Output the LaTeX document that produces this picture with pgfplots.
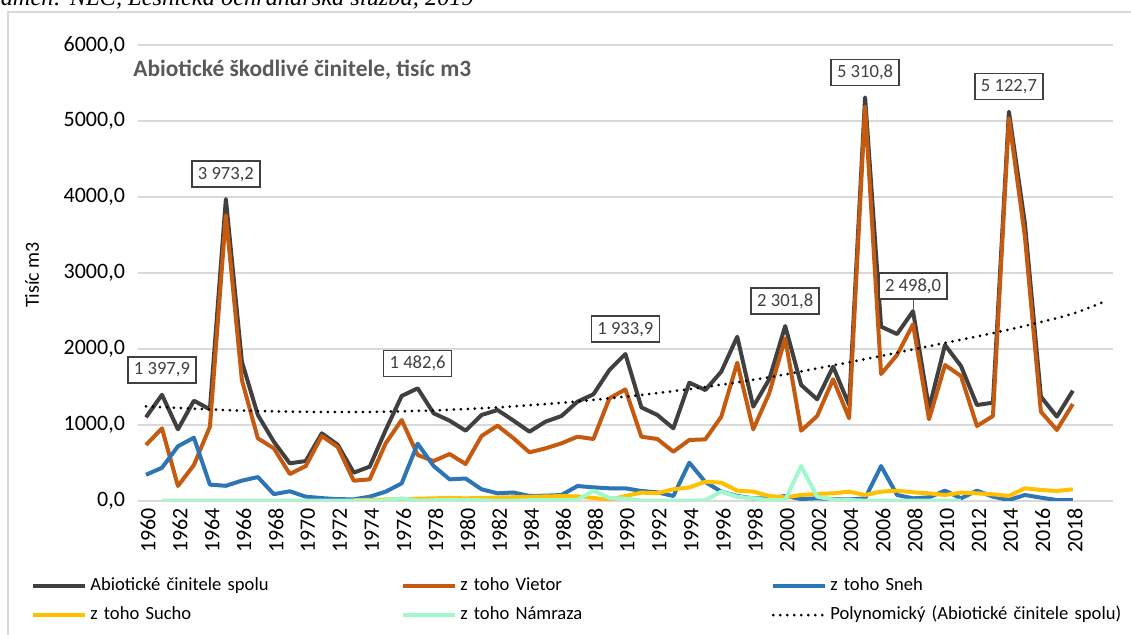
\documentclass[border=0pt]{standalone}
\usepackage{fontspec}
\setmainfont{Carlito}
\newfontfamily\timesf{Liberation Serif}
\usepackage{pgfplots}
\pgfplotsset{compat=1.18}
\usepackage{pgfplotstable}
\definecolor{cTot}{HTML}{404040}
\definecolor{cVie}{HTML}{C55A11}
\definecolor{cSne}{HTML}{2E75B6}
\definecolor{cSuc}{HTML}{FFC000}
\definecolor{cNam}{HTML}{A0F8CC}
\definecolor{cGrid}{HTML}{D9D9D9}
\definecolor{cTitle}{HTML}{595959}

\pgfplotstableread{
year total vietor sneh sucho namraza
1960 1101 737 345 nan nan
1961 1397.9 956 437 nan 5
1962 943 197 720 nan 5
1963 1320 474 833 nan 5
1964 1206 978 215 nan 5
1965 3973.2 3760 200 nan 5
1966 1833 1592 268 nan 5
1967 1132 825 315 nan 5
1968 780 693 90 nan 5
1969 496 355 128 nan 5
1970 526 460 57 nan 5
1971 890 855 38 nan 5
1972 740 710 24 nan 5
1973 373 267 22 10 5
1974 452 285 57 15 5
1975 934 759 123 20 10
1976 1382 1066 232 25 35
1977 1482.6 605 755 30 5
1978 1154 526 460 35 10
1979 1057 618 285 40 15
1980 925 487 296 35 10
1981 1132 855 154 40 10
1982 1197 991 101 45 5
1983 1057 825 112 50 5
1984 912 640 66 55 10
1985 1044 693 70 60 10
1986 1118 759 79 65 10
1987 1307 846 197 60 15
1988 1404 816 180 40 135
1989 1724 1351 167 14 40
1990 1933.9 1469 167 66 30
1991 1232 846 132 110 5
1992 1132 816 114 103 5
1993 956 649 66 154 5
1994 1557 803 504 178 5
1995 1460 811 250 254 10
1996 1702 1110 123 241 123
1997 2162 1820 66 136 57
1998 1241 943 35 123 35
1999 1601 1417 35 66 13
2000 2301.8 2140 66 48 13
2001 1526 925 26 79 460
2002 1338 1118 35 94 57
2003 1768 1601 26 101 20
2004 1263 1088 20 123 13
2005 5310.8 5190 35 79 5
2006 2294 1671 460 123 5
2007 2197 1921 79 136 5
2008 2498.0 2325 35 114 5
2009 1219 1075 48 101 5
2010 2053 1789 136 79 5
2011 1776 1645 35 110 5
2012 1263 987 136 101 nan
2013 1294 1118 57 88 nan
2014 5122.7 5035 13 66 nan
2015 3650 3480 79 167 nan
2016 1373 1175 44 145 nan
2017 1110 934 13 132 nan
2018 1451 1276 13 154 nan
}\datatable

\begin{document}
\begin{tikzpicture}
\path[use as bounding box] (0pt,0pt) rectangle (565.5pt,-317.5pt);
\clip (0pt,0pt) rectangle (565.5pt,-317.5pt);
\node[anchor=base west, font=\timesf\itshape\fontsize{12.2}{14}\selectfont, inner sep=0pt] at (-12pt,-3pt) {Prameň: NLC, Lesnícka ochranárska služba, 2019};
\draw[cGrid, line width=1pt] (4pt,-330pt) -- (4pt,-6pt) -- (580pt,-6pt);
\node[anchor=west, font=\bfseries\fontsize{11.7}{14}\selectfont, text=cTitle, inner sep=0pt] at (66.5pt,-35pt) {Abiotické škodlivé činitele, tisíc m3};
\node[rotate=90, font=\fontsize{10}{12}\selectfont, inner sep=0pt] at (16pt,-137.5pt) {Tisíc m3};
\begin{axis}[
  at={(69pt,-250.5pt)}, anchor=south west,
  scale only axis, width=487.4pt, height=228pt,
  xmin=1959.5, xmax=2020.5, ymin=0, ymax=6000,
  xtick={1960,1962,...,2018},
  ytick={0,1000,...,6000},
  ymajorgrids, grid style={cGrid, line width=0.8pt},
  axis line style={draw=none},
  major tick length=0pt,
  unbounded coords=jump,
  tick label style={font=\fontsize{11}{13}\selectfont, text=black},
  /pgf/number format/assume math mode=true,
  xticklabel style={rotate=90, anchor=east, yshift=-1pt, /pgf/number format/1000 sep={}},
  yticklabel style={xshift=-3pt, /pgf/number format/.cd, fixed, fixed zerofill, precision=1, use comma, 1000 sep={}},
  legend columns=3,
  legend cell align=left,
  legend image code/.code={\draw[#1] (0pt,0pt) -- (26pt,0pt);},
  legend style={at={(axis description cs:-0.1098,-0.165)}, anchor=north west, draw=none, fill=none, inner sep=0pt, row sep=5pt, font=\fontsize{9.3}{11}\selectfont, nodes={text width=154pt, inner xsep=1.5pt, inner ysep=0pt, text height=7pt, text depth=2.5pt}},
]
\addplot[cTot, line width=2pt, line join=round] table[x=year, y=total]{\datatable};
\addlegendentry{Abiotické činitele spolu}
\addplot[cVie, line width=2pt, line join=round] table[x=year, y=vietor]{\datatable};
\addlegendentry{z toho Vietor}
\addplot[cSne, line width=2pt, line join=round] table[x=year, y=sneh]{\datatable};
\addlegendentry{z toho Sneh}
\addplot[cSuc, line width=2pt, line join=round] table[x=year, y=sucho]{\datatable};
\addlegendentry{z toho Sucho}
\addplot[cNam, line width=2pt, line join=round] table[x=year, y=namraza]{\datatable};
\addlegendentry{z toho Námraza}
\addplot[black, line width=1.5pt, line cap=round, dash pattern=on 0pt off 3.5pt, smooth] coordinates {
(1960,1245) (1962,1225) (1964,1205) (1966,1190) (1968,1180) (1970,1173) (1972,1170) (1974,1172) (1976,1180) (1978,1192) (1980,1210) (1982,1232) (1984,1260) (1986,1292) (1988,1330) (1990,1373) (1992,1420) (1994,1472) (1996,1530) (1998,1595) (2000,1665) (2002,1745) (2004,1825) (2006,1908) (2008,1995) (2010,2080) (2012,2165) (2014,2255) (2016,2355) (2018,2465) (2020,2625)};
\addlegendentry{Polynomický (Abiotické činitele spolu)}
\addplot[draw=none, forget plot, nodes near coords, point meta=explicit symbolic,
  every node near coord/.style={draw=cTot, line width=0.8pt, fill=white, text=cTot, font=\fontsize{9.3}{11}\selectfont, inner xsep=3pt, inner ysep=2pt, text height=7pt, text depth=2pt, anchor=center, yshift=12.5pt}]
  coordinates {(1961,1397.9) [1 397,9] (1965,3973.2) [3 973,2] (1977,1482.6) [1 482,6] (1990,1933.9) [1 933,9] (2000,2301.8) [2 301,8] (2005,5310.8) [5 310,8] (2008,2498.0) [2 498,0] (2014,5122.7) [5 122,7]};
\draw[cTitle, line width=0.5pt] (axis cs:2008,2498) -- ++(0pt,6pt);
\end{axis}
\end{tikzpicture}
\end{document}
